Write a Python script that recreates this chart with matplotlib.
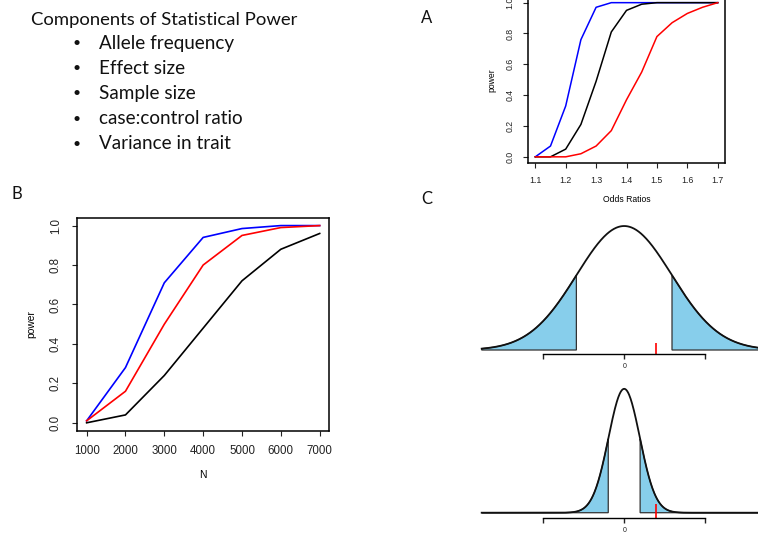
import numpy as np
import matplotlib
matplotlib.use("Agg")
import matplotlib.pyplot as plt

# ---- data ----
odds_ratio = [1.1, 1.15, 1.2, 1.25, 1.3, 1.35, 1.4, 1.45, 1.5, 1.55, 1.6, 1.65, 1.7]
powerA_blue = [0.0, 0.07, 0.33, 0.76, 0.97, 1.0, 1.0, 1.0, 1.0, 1.0, 1.0, 1.0, 1.0]
powerA_black = [0.0, 0.0, 0.05, 0.21, 0.49, 0.81, 0.95, 0.99, 1.0, 1.0, 1.0, 1.0, 1.0]
powerA_red = [0.0, 0.0, 0.0, 0.02, 0.07, 0.17, 0.37, 0.55, 0.78, 0.87, 0.93, 0.97, 1.0]

sample_n = [1000, 2000, 3000, 4000, 5000, 6000, 7000]
powerB_blue = [0.01, 0.28, 0.71, 0.94, 0.985, 1.0, 1.0]
powerB_red = [0.01, 0.16, 0.50, 0.80, 0.95, 0.99, 1.0]
powerB_black = [0.0, 0.04, 0.24, 0.48, 0.72, 0.88, 0.96]

title = "Components of Statistical Power"
components = ["Allele frequency", "Effect size", "Sample size",
              "case:control ratio", "Variance in trait"]

sd_top = 1.0
sd_bottom = 0.33
crit_z = 1.0          # cut-off in sd units
observed = 0.68       # red mark
axis_ticks = [-1.7, 0, 1.7]
axis_labels = ["", "0", ""]

W, H = 758, 537
fig = plt.figure(figsize=(W / 100, H / 100), dpi=100)
plt.rcParams['font.family'] = ['Liberation Sans', 'DejaVu Sans']

def px_axes(l, t, r, b):
    return fig.add_axes([l / W, 1 - b / H, (r - l) / W, (b - t) / H])

def r_style(ax, fs, xpad, ypad):
    for s in ax.spines.values():
        s.set_linewidth(1.1)
    ax.tick_params(direction='out', length=3.3, width=0.8, labelsize=fs,
                   colors='#222222')
    ax.tick_params(axis='x', pad=xpad)
    ax.tick_params(axis='y', pad=ypad)
    for lab in ax.get_yticklabels():
        lab.set_rotation(90)
        lab.set_va('center')

# ---- text block (pixel coordinates from the top-left) ----
tfont = 'Lato'
fig.text(31, H - 20, title, transform=None, fontsize=13.3, family=tfont,
         va='center', color='#111111')
for i, item in enumerate(components):
    y = H - (43 + i * 25.2)
    fig.text(77, y, "\u2022", transform=None, fontsize=10, family=tfont,
             va='center', ha='center', color='#111111')
    fig.text(99, y, item, transform=None, fontsize=13.6, family=tfont,
             va='center', color='#111111')

for lab, x, y in [("A", 426.5, 18), ("B", 17, 194), ("C", 426.5, 199)]:
    fig.text(x, H - y, lab, transform=None, fontsize=12, family=tfont,
             ha='center', va='center', color='#111111')

# ---- panel A ----
axA = px_axes(528, -3.5, 725, 163)
axA.plot(odds_ratio, powerA_blue, color='blue', lw=1.1)
axA.plot(odds_ratio, powerA_black, color='black', lw=1.1)
axA.plot(odds_ratio, powerA_red, color='red', lw=1.1)
axA.set_xlim(1.076, 1.724)
axA.set_ylim(-0.04, 1.04)
axA.set_xticks(np.arange(1.1, 1.71, 0.1))
axA.set_yticks(np.arange(0, 1.01, 0.2))
r_style(axA, 6.3, 6.3, 6.3)
axA.set_xlabel("Odds Ratios", fontsize=6.2, va='center')
axA.set_ylabel("power", fontsize=6.2, va='center')
axA.xaxis.set_label_coords(0.5, (163 - 199.3) / 166.5)
axA.yaxis.set_label_coords((491.7 - 528) / 197, 0.5)

# ---- panel B ----
axB = px_axes(77.3, 217.7, 329, 430.7)
axB.plot(sample_n, powerB_blue, color='blue', lw=1.2)
axB.plot(sample_n, powerB_red, color='red', lw=1.2)
axB.plot(sample_n, powerB_black, color='black', lw=1.2)
axB.set_xlim(760, 7240)
axB.set_ylim(-0.04, 1.04)
axB.set_xticks(sample_n)
axB.set_yticks(np.arange(0, 1.01, 0.2))
r_style(axB, 8.3, 6.8, 7.8)
axB.set_xlabel("N", fontsize=7.4, va='center')
axB.set_ylabel("power", fontsize=7.4, va='center')
axB.xaxis.set_label_coords(0.5, (430.7 - 475) / 213)
axB.yaxis.set_label_coords((31.7 - 77.3) / 251.7, 0.5)

# ---- panel C ----
def normal_panel(box, sd, ylim, axis_y, red_span):
    ax = px_axes(*box)
    x = np.linspace(-3, 3, 600)
    dens = np.exp(-0.5 * (x / sd) ** 2) / (sd * np.sqrt(2 * np.pi))
    c = crit_z * sd
    for m in (x <= -c, x >= c):
        xs = np.concatenate([[x[m][0]], x[m], [x[m][-1]]])
        ys = np.concatenate([[0], dens[m], [0]])
        ax.fill(xs, ys, facecolor='#87CEEB', edgecolor='#333333', lw=0.9)
    ax.plot(x, dens, color='#111111', lw=1.3)
    ax.set_xlim(-3.246, 2.817)
    ax.set_ylim(*ylim)
    for s in ['top', 'left', 'right']:
        ax.spines[s].set_visible(False)
    ax.spines['bottom'].set_position(('data', axis_y))
    ax.spines['bottom'].set_bounds(axis_ticks[0], axis_ticks[-1])
    ax.spines['bottom'].set_linewidth(1.0)
    ax.set_xticks(axis_ticks)
    ax.set_xticklabels(axis_labels)
    ax.set_yticks([])
    ax.tick_params(axis='x', direction='out', length=3.5, width=1.0,
                   labelsize=5, pad=3, colors='#222222')
    ax.vlines(observed, red_span[0], red_span[1], color='red', lw=1.2)
    ax.patch.set_alpha(0)
    return ax

normal_panel((470, 215, 758, 380), sd_top, (-0.0965, 0.4344), -0.0138,
             (-0.016, 0.0235))
normal_panel((470, 380, 758, 537), sd_bottom, (-0.237, 1.295), -0.0546,
             (-0.051, 0.085))

fig.savefig("out.png", dpi=100)
